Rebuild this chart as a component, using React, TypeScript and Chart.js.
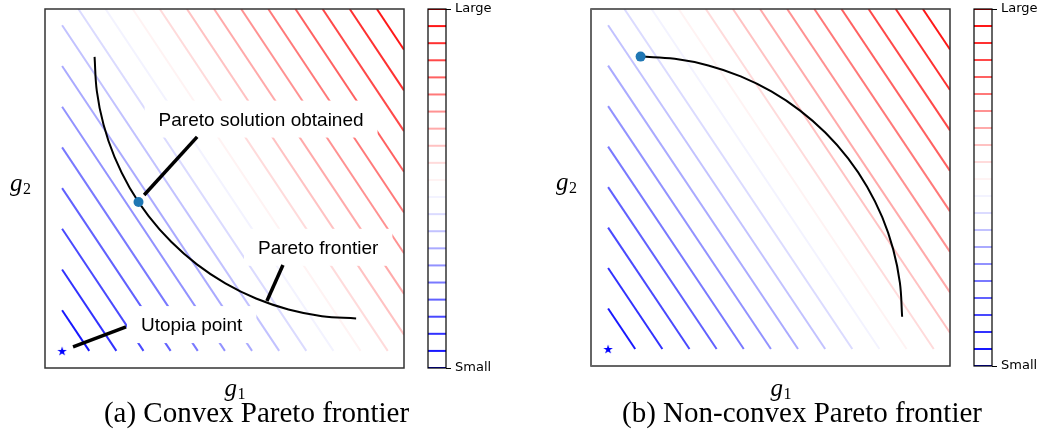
import React, { useEffect, useRef } from 'react';
import { Chart, registerables } from 'chart.js';

Chart.register(...registerables);

const W = 1041;
const H = 433;

// ---------- data ----------
// contour levels of f = 1.5*g1 + 1.0*g2 on the unit square
const contourLevels = [
  0, 0.119, 0.2381, 0.3571, 0.4762, 0.5952, 0.7143, 0.8333, 0.9524, 1.0714, 1.1905,
  1.3095, 1.4286, 1.5476, 1.6667, 1.7857, 1.9048, 2.0238, 2.1429, 2.2619, 2.381, 2.5,
];
const contourWeights = [1.5, 1.0];
const axisMin = -0.05;
const axisMax = 1.0;

// convex frontier (panel a)
const convexG1 = [0.095, 0.1016, 0.1211, 0.1532, 0.1975, 0.2531, 0.3191, 0.3943, 0.4775, 0.5672, 0.662, 0.7601, 0.86];
const convexG2 = [0.86, 0.7601, 0.662, 0.5672, 0.4775, 0.3943, 0.3191, 0.2531, 0.1975, 0.1532, 0.1211, 0.1016, 0.095];
// non-convex frontier (panel b)
const nonConvexG1 = [0.095, 0.1949, 0.293, 0.3878, 0.4775, 0.5607, 0.6359, 0.7019, 0.7575, 0.8018, 0.8339, 0.8534, 0.86];
const nonConvexG2 = [0.86, 0.8534, 0.8339, 0.8018, 0.7575, 0.7019, 0.6359, 0.5607, 0.4775, 0.3878, 0.293, 0.1949, 0.095];

const solutionG1 = [0.2235, 0.095];
const solutionG2 = [0.4357, 0.86];
const utopiaG1 = [0, 0];
const utopiaG2 = [0, 0];

// annotations (panel a)
const annotTexts = ['Pareto solution obtained', 'Pareto frontier', 'Utopia point'];
const annotTextG1 = [0.582, 0.749, 0.379];
const annotTextG2 = [0.678, 0.303, 0.077];
const annotFromG1 = [0.395, 0.646, 0.187];
const annotFromG2 = [0.626, 0.251, 0.07];
const annotToG1 = [0.24, 0.599, 0.032];
const annotToG2 = [0.456, 0.146, 0.012];

const colorbarTickValues = [0, 2.5];
const colorbarTickLabels = ['Small', 'Large'];
const captions = ['(a) Convex Pareto frontier', '(b) Non-convex Pareto frontier'];
const captionCenters = [256.5, 802];

// ---------- layout (pixel boxes) ----------
const mainAreas = [
  { left: 45, top: 9, right: 404, bottom: 368 },
  { left: 591, top: 9, right: 950, bottom: 366 },
];
const cbAreas = [
  { left: 428, top: 9, right: 446, bottom: 368 },
  { left: 974, top: 9, right: 992, bottom: 366 },
];
const CB_AXIS_W = 45;

function bwr(t: number): string {
  if (t < 0.5) {
    const v = Math.round(255 * 2 * t);
    return `rgb(${v},${v},255)`;
  }
  const v = Math.round(255 * 2 * (1 - t));
  return `rgb(255,${v},${v})`;
}

function contourSegment(c: number) {
  const [a, b] = contourWeights;
  const p1 = c / b <= 1 ? { x: 0, y: c / b } : { x: (c - b) / a, y: 1 };
  const p2 = c / a <= 1 ? { x: c / a, y: 0 } : { x: 1, y: (c - a) / b };
  return [p1, p2];
}

function makeStar(size: number, color: string) {
  const c = document.createElement('canvas');
  c.width = size;
  c.height = size;
  const ctx = c.getContext('2d')!;
  const R = size / 2;
  const r = R * 0.382;
  ctx.beginPath();
  for (let i = 0; i < 10; i++) {
    const ang = -Math.PI / 2 + (i * Math.PI) / 5;
    const rad = i % 2 === 0 ? R : r;
    ctx.lineTo(R + rad * Math.cos(ang), R + rad * Math.sin(ang) + 0.5);
  }
  ctx.closePath();
  ctx.fillStyle = color;
  ctx.fill();
  return c;
}

function drawAxisLabel(ctx: CanvasRenderingContext2D, x: number, y: number, sub: string) {
  ctx.save();
  ctx.fillStyle = '#000';
  ctx.textAlign = 'left';
  ctx.textBaseline = 'alphabetic';
  ctx.font = 'italic 25px "Liberation Serif", "Times New Roman", serif';
  ctx.fillText('g', x, y);
  const w = ctx.measureText('g').width;
  ctx.font = '16px "Liberation Serif", "Times New Roman", serif';
  ctx.fillText(sub, x + w + 0.5, y + 3);
  ctx.restore();
}

function mainConfig(panel: number, star: HTMLCanvasElement): any {
  const area = mainAreas[panel];
  const datasets: any[] = [];
  datasets.push({
    data: [{ x: utopiaG1[panel], y: utopiaG2[panel] }],
    pointStyle: star,
    pointRadius: 5,
    showLine: false,
    order: 0,
  });
  datasets.push({
    data: [{ x: solutionG1[panel], y: solutionG2[panel] }],
    pointRadius: 5,
    pointBackgroundColor: '#1f77b4',
    pointBorderColor: '#1f77b4',
    pointBorderWidth: 0,
    showLine: false,
    order: 0,
  });
  const cx = panel === 0 ? convexG1 : nonConvexG1;
  const cy = panel === 0 ? convexG2 : nonConvexG2;
  datasets.push({
    data: cx.map((x, i) => ({ x, y: cy[i] })),
    showLine: true,
    borderColor: '#000',
    borderWidth: 2,
    pointRadius: 0,
    tension: 0.4,
    fill: false,
    order: 1,
  });
  const n = contourLevels.length;
  contourLevels.forEach((c, k) => {
    const seg = contourSegment(c);
    if (Math.abs(seg[0].x - seg[1].x) < 1e-6 && Math.abs(seg[0].y - seg[1].y) < 1e-6) return;
    datasets.push({
      data: seg,
      showLine: true,
      borderColor: bwr(k / (n - 1)),
      borderWidth: 2,
      pointRadius: 0,
      fill: false,
      order: 2,
    });
  });

  const decor = {
    id: 'decor' + panel,
    afterDatasetsDraw(chart: any) {
      const ctx: CanvasRenderingContext2D = chart.ctx;
      const xs = chart.scales.x;
      const ys = chart.scales.y;
      const ca = chart.chartArea;
      ctx.save();
      if (panel === 0) {
        const fs = 19;
        ctx.font = `${fs}px "Liberation Sans", Arial, sans-serif`;
        annotTexts.forEach((t, i) => {
          const px = xs.getPixelForValue(annotTextG1[i]);
          const py = ys.getPixelForValue(annotTextG2[i]);
          const w = ctx.measureText(t).width;
          ctx.fillStyle = '#fff';
          ctx.fillRect(px - w / 2 - 14, py - 18.5, w + 28, 37);
          ctx.fillStyle = '#000';
          ctx.textAlign = 'center';
          ctx.textBaseline = 'alphabetic';
          ctx.fillText(t, px, py + fs * 0.36);
          ctx.beginPath();
          ctx.moveTo(xs.getPixelForValue(annotFromG1[i]), ys.getPixelForValue(annotFromG2[i]));
          ctx.lineTo(xs.getPixelForValue(annotToG1[i]), ys.getPixelForValue(annotToG2[i]));
          ctx.strokeStyle = '#000';
          ctx.lineWidth = 3.5;
          ctx.stroke();
        });
      }
      // spines
      ctx.strokeStyle = '#333';
      ctx.lineWidth = 1.5;
      ctx.strokeRect(ca.left, ca.top, ca.right - ca.left, ca.bottom - ca.top);
      if (panel === 1) {
        ctx.strokeStyle = '#666';
        ctx.lineWidth = 2;
        ctx.beginPath();
        ctx.moveTo(ca.left, ca.top);
        ctx.lineTo(ca.left, ca.bottom);
        ctx.stroke();
      }
      // axis labels
      drawAxisLabel(ctx, (ca.left + ca.right) / 2, 396, '1');
      drawAxisLabel(ctx, ca.left - 35, (ca.top + ca.bottom) / 2 + 2.5, '2');
      // caption
      ctx.fillStyle = '#000';
      ctx.font = '29px "Liberation Serif", "Times New Roman", serif';
      ctx.textAlign = 'center';
      ctx.textBaseline = 'alphabetic';
      ctx.fillText(captions[panel], captionCenters[panel], 421.5);
      ctx.restore();
    },
  };

  return {
    type: 'scatter',
    data: { datasets },
    options: {
      responsive: false,
      animation: false,
      events: [],
      layout: {
        padding: { left: area.left, top: area.top, right: W - area.right, bottom: H - area.bottom },
      },
      plugins: { legend: { display: false }, tooltip: { enabled: false } },
      scales: {
        x: { type: 'linear', min: axisMin, max: axisMax, display: false },
        y: { type: 'linear', min: axisMin, max: axisMax, display: false },
      },
    },
    plugins: [decor],
  };
}

function colorbarConfig(panel: number): any {
  const area = cbAreas[panel];
  const n = contourLevels.length;
  const datasets = contourLevels.map((c, k) => ({
    data: [
      { x: 0, y: c },
      { x: 1, y: c },
    ],
    showLine: true,
    borderColor: bwr(k / (n - 1)),
    borderWidth: 2,
    pointRadius: 0,
    fill: false,
  }));
  const frame = {
    id: 'cbframe' + panel,
    afterDatasetsDraw(chart: any) {
      const ctx: CanvasRenderingContext2D = chart.ctx;
      const ca = chart.chartArea;
      ctx.save();
      ctx.strokeStyle = '#000';
      ctx.lineWidth = 1.2;
      ctx.strokeRect(ca.left, ca.top, ca.right - ca.left, ca.bottom - ca.top);
      ctx.restore();
    },
  };
  return {
    type: 'scatter',
    data: { datasets },
    options: {
      responsive: false,
      animation: false,
      events: [],
      layout: {
        padding: {
          left: area.left,
          top: area.top,
          right: W - area.right - CB_AXIS_W,
          bottom: H - area.bottom,
        },
      },
      plugins: { legend: { display: false }, tooltip: { enabled: false } },
      scales: {
        x: { type: 'linear', min: 0, max: 1, display: false },
        y: {
          type: 'linear',
          position: 'right',
          min: contourLevels[0],
          max: contourLevels[contourLevels.length - 1],
          afterFit: (s: any) => {
            s.width = CB_AXIS_W;
            s.paddingTop = 0;
            s.paddingBottom = 0;
          },
          afterBuildTicks: (s: any) => {
            s.ticks = colorbarTickValues.map((v) => ({ value: v }));
          },
          grid: {
            display: true,
            drawOnChartArea: false,
            drawTicks: true,
            tickLength: 5,
            color: '#000',
            lineWidth: 1,
          },
          border: { display: false },
          ticks: {
            padding: 4,
            color: '#000',
            autoSkip: false,
            maxRotation: 0,
            font: { family: '"DejaVu Sans", sans-serif', size: 13 },
            callback: (_v: any, i: number) => colorbarTickLabels[i],
          },
        },
      },
    },
    plugins: [frame],
  };
}

export default function App() {
  const r0 = useRef<HTMLCanvasElement>(null);
  const r1 = useRef<HTMLCanvasElement>(null);
  const r2 = useRef<HTMLCanvasElement>(null);
  const r3 = useRef<HTMLCanvasElement>(null);

  useEffect(() => {
    const star = makeStar(10, '#0000ff');
    const charts = [
      new Chart(r0.current!, mainConfig(0, star)),
      new Chart(r1.current!, colorbarConfig(0)),
      new Chart(r2.current!, mainConfig(1, star)),
      new Chart(r3.current!, colorbarConfig(1)),
    ];
    return () => charts.forEach((c) => c.destroy());
  }, []);

  const cs: React.CSSProperties = { position: 'absolute', left: 0, top: 0, width: W, height: H };
  return (
    <div style={{ position: 'absolute', left: 0, top: 0, width: W, height: H, background: '#fff', overflow: 'hidden' }}>
      <canvas ref={r0} width={W} height={H} style={cs} />
      <canvas ref={r1} width={W} height={H} style={cs} />
      <canvas ref={r2} width={W} height={H} style={cs} />
      <canvas ref={r3} width={W} height={H} style={cs} />
    </div>
  );
}
